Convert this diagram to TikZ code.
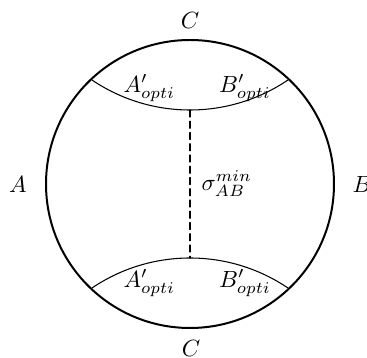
\documentclass[tikz,border=0pt]{standalone}
\usepackage{amsmath,amssymb}
\usepackage{tikz}

\begin{document}
\begin{tikzpicture}[line cap=round,
  rim/.style={line width=0.85pt},
  cut/.style={line width=0.45pt},
  gap/.style={line width=0.45pt,dash pattern=on 3pt off 1.8pt}]
\useasboundingbox (-2.85,-2.61) rectangle (2.655,2.76);
\draw[rim] (0,0) circle (2.16);
\draw[cut] (-1.47,1.56) arc[start angle=235.95,end angle=304.05,radius=2.625];
\draw[cut] (-1.47,-1.56) arc[start angle=124.05,end angle=55.95,radius=2.625];
\coordinate (top) at (0,1.11);
\coordinate (bot) at (0,-1.11);
\draw[gap] (top) -- (bot);
\node (Ct) at (0,2.45) {$C$};
\node (Cb) at (0.015,-2.46) {$C$};
\node (A) at (-2.58,0) {$A$};
\node (B) at (2.58,0) {$B$};
\node (At) at (-0.61,1.44) {$A'_{opti}$};
\node (Bt) at (0.825,1.44) {$B'_{opti}$};
\node (Ab) at (-0.61,-1.485) {$A'_{opti}$};
\node (Bb) at (0.825,-1.485) {$B'_{opti}$};
\node (sig) at (0.55,0) {$\sigma_{AB}^{min}$};
\end{tikzpicture}
\end{document}
